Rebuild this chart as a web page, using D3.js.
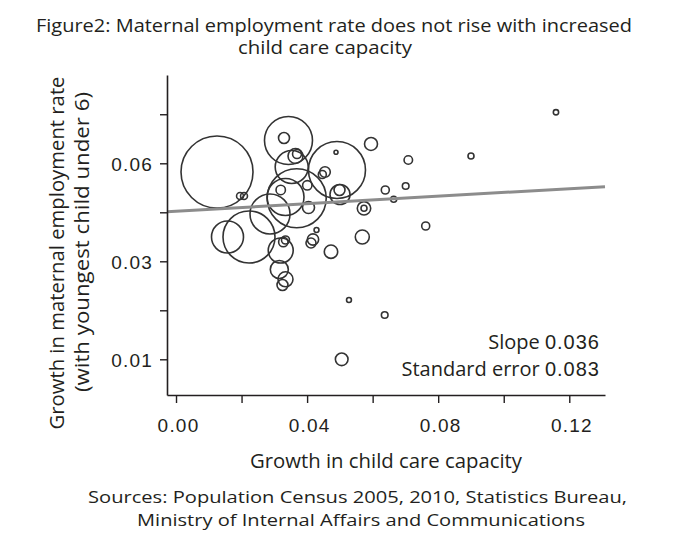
<!DOCTYPE html>
<html><head><meta charset="utf-8">
<script src="https://cdn.jsdelivr.net/npm/d3@7"></script>
<style>body{margin:0;background:#fff}</style>
</head><body><svg id="c" width="675" height="550"></svg>
<script>
// growth in child care capacity (x), growth in maternal employment rate (y), bubble size (weight)
const xValues = [0.01251,0.01953,0.02075,0.03432,0.03295,0.03646,0.03692,0.03530,0.04912,0.04882,
                 0.05950,0.04546,0.04464,0.03683,0.03341,0.03195,0.04006,0.04043,0.02868,0.02227,
                 0.01571,0.05004,0.04989,0.06386,0.05736,0.05736,0.05684,0.04729,0.04287,0.04180,
                 0.04119,0.03195,0.03274,0.03341,0.03152,0.03341,0.03249,0.05278,0.07088,0.09001,
                 0.11594,0.07008,0.06642,0.07619,0.06368,0.05056];
const yValues = [0.05734,0.04999,0.04999,0.06698,0.06774,0.06223,0.06285,0.05887,0.05795,0.06337,
                 0.06591,0.05734,0.05657,0.04929,0.04968,0.05183,0.05327,0.04647,0.04448,0.03744,
                 0.03744,0.05045,0.05183,0.05183,0.04622,0.04622,0.03744,0.03294,0.03958,0.03667,
                 0.03560,0.03331,0.03591,0.03652,0.02833,0.02633,0.02516,0.02210,0.06101,0.06223,
                 0.07561,0.05305,0.04898,0.04081,0.01904,0.01000];
const sizes   = [1296,12,12,576,30,56,20,272,812,4,
                 42,28,16,870,342,22,22,36,400,676,
                 256,100,30,16,45,9,49,45,6,32,
                 25,156,22,16,81,56,30,6,18,9,
                 7,11,9,16,11,40];
const xTicks = [0, 0.02, 0.04, 0.06, 0.08, 0.10, 0.12];
const xTickLabels = ["0.00", "", "0.04", "", "0.08", "", "0.12"];
const yTicks = [0.01, 0.02, 0.03, 0.045, 0.06, 0.075];
const yTickLabels = ["0.01", "", "0.03", "", "0.06", ""];
const fitX = [-0.00275, 0.1309];
const fitY = [0.04518, 0.05284];
const titleLines = ["Figure2: Maternal employment rate does not rise with increased", "child care capacity"];
const yTitleLines = ["Growth in maternal employment rate", "(with youngest child under 6)"];
const xTitle = "Growth in child care capacity";
const sourceLines = ["Sources: Population Census 2005, 2010, Statistics Bureau,", "Ministry of Internal Affairs and Communications"];
const statLabels = ["Slope", "Standard error"];
const statValues = ["0.036", "0.083"];

const svg = d3.select("#c");
const L = 167, R = 605, T = 75, B = 395;
const x = d3.scaleLinear().domain([-0.00275, 0.1309]).range([L, R]);
const y = d3.scaleLinear().domain([0.0027, 0.01, 0.03, 0.06, 0.087]).range([B, 359.3, 261.3, 163.3, T]);
const r = d3.scaleSqrt().domain([0, 1296]).range([0, 36]);
const font = "'Open Sans', 'Noto Sans', sans-serif";
const ink = "#231f20";

function txt(g, s, fs, len) {
  const t = g.append("text").text(s).attr("font-family", font).attr("font-size", fs).attr("fill", ink);
  if (len) t.attr("textLength", len).attr("lengthAdjust", "spacingAndGlyphs");
  return t;
}

// title
txt(svg, titleLines[0], 18, 596).attr("x", 36).attr("y", 32);
txt(svg, titleLines[1], 18, 174).attr("x", 238).attr("y", 54);

// bubbles
const pts = xValues.map((v, i) => ({x: v, y: yValues[i], s: sizes[i]}));
svg.append("g").selectAll("circle").data(pts).join("circle")
  .attr("cx", d => x(d.x)).attr("cy", d => y(d.y)).attr("r", d => r(d.s))
  .attr("fill", "none").attr("stroke", "#333").attr("stroke-width", 1.6);

// fit line
svg.append("line")
  .attr("x1", x(fitX[0])).attr("y1", y(fitY[0]))
  .attr("x2", x(fitX[1])).attr("y2", y(fitY[1]))
  .attr("stroke", "#8c8c8c").attr("stroke-width", 3);

// axes
const ya = svg.append("g").attr("transform", `translate(${L},0)`)
  .call(d3.axisLeft(y).tickValues(yTicks).tickSize(7).tickSizeOuter(0).tickFormat((d, i) => yTickLabels[i]));
const xa = svg.append("g").attr("transform", `translate(0,${B})`)
  .call(d3.axisBottom(x).tickValues(xTicks).tickSize(8).tickSizeOuter(0).tickFormat((d, i) => xTickLabels[i]));
[ya, xa].forEach(a => {
  a.select(".domain").attr("stroke", ink).attr("stroke-width", 1.6);
  a.selectAll(".tick line").attr("stroke", ink).attr("stroke-width", 1.4);
  a.selectAll(".tick text").attr("font-family", "'Liberation Sans', Arial, sans-serif")
    .attr("font-size", 19).attr("fill", ink).attr("letter-spacing", 1.2);
});
ya.selectAll(".tick text").attr("x", -14).attr("dy", "0.36em");
xa.selectAll(".tick text").attr("y", 24).attr("dx", 2);

// axis titles
const yt = svg.append("g").attr("transform", "rotate(-90)");
txt(yt, yTitleLines[0], 20, 353).attr("x", -253).attr("y", 64).attr("text-anchor", "middle");
txt(yt, yTitleLines[1], 20, 300).attr("x", -242).attr("y", 89).attr("text-anchor", "middle");
txt(svg, xTitle, 20, 272).attr("x", 250).attr("y", 468);

// sources
txt(svg, sourceLines[0], 17, 539).attr("x", 88).attr("y", 503);
txt(svg, sourceLines[1], 17, 448).attr("x", 137).attr("y", 526);

// stats
const statY = [349, 376];
statLabels.forEach((s, i) => {
  const t = svg.append("text").attr("x", 600).attr("y", statY[i]).attr("text-anchor", "end")
    .attr("fill", ink).attr("font-size", 20);
  t.append("tspan").text(s + " ").attr("font-family", font);
  t.append("tspan").text(statValues[i]).attr("font-family", "'Liberation Sans', Arial, sans-serif").attr("letter-spacing", 1);
});
</script></body></html>
